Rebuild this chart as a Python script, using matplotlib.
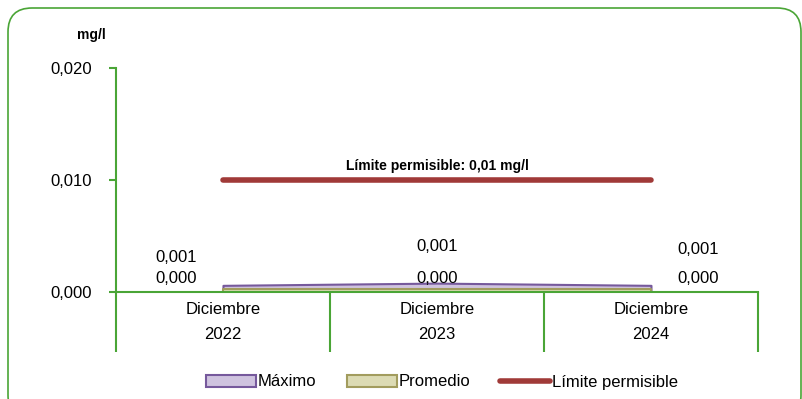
import matplotlib
matplotlib.use("Agg")
import matplotlib.pyplot as plt
from matplotlib.patches import FancyBboxPatch, Patch
from matplotlib.lines import Line2D

# data
meses = ["Diciembre", "Diciembre", "Diciembre"]
anios = ["2022", "2023", "2024"]
maximo = [0.0006, 0.0008, 0.0006]
promedio = [0.0003, 0.0003, 0.0003]
limite = 0.01

verde = "#4aa536"
plt.rcParams["font.family"] = ["Liberation Sans Narrow", "Liberation Sans", "DejaVu Sans"]

fig = plt.figure(figsize=(8.02, 3.99), dpi=100)
ax = fig.add_axes([0.1446, 0.268, 0.8005, 0.5616])

# rounded frame around the whole chart
marco = FancyBboxPatch((8 / 802, -0.05), 1 - 9 / 802, 1.0 - 8 / 399 + 0.05,
                       boxstyle="round,pad=0,rounding_size=0.03",
                       transform=fig.transFigure, fill=False,
                       edgecolor=verde, linewidth=1.2, mutation_aspect=2.0)
fig.patches.append(marco)

x = list(range(len(anios)))
ax.fill_between(x, maximo, color="#cfc3df", edgecolor="#76599c", linewidth=1.5)
ax.fill_between(x, promedio, color="#dcdbb4", edgecolor="#a29c5e", linewidth=1.5)
ax.plot([x[0], x[-1]], [limite, limite], color="#a03a38", linewidth=4, solid_capstyle="round")
ax.text(1, limite + 0.0006, "Límite permisible: 0,01 mg/l", ha="center", va="bottom",
        fontsize=10, fontweight="bold")

# data labels
desp = [(-34, 20), (0, 26), (34, 26)]
for i in x:
    dx, dy = desp[i]
    ax.annotate(f"{maximo[i]:.3f}".replace(".", ","), (i, maximo[i]), xytext=(dx, dy),
                textcoords="offset points", ha="center", va="center", fontsize=12)
    ax.annotate(f"{promedio[i]:.3f}".replace(".", ","), (i, promedio[i]), xytext=(dx, 7.5),
                textcoords="offset points", ha="center", va="center", fontsize=12)

ax.set_xlim(-0.5, 2.5)
ax.set_ylim(0, 0.02)
ax.set_yticks([0, 0.01, 0.02])
ax.set_yticklabels(["0,000", "0,010", "0,020"], fontsize=12)
ax.set_xticks(x)
ax.set_xticklabels([f"{m}\n{a}" for m, a in zip(meses, anios)], fontsize=12, linespacing=1.85)
ax.set_xticks([-0.5, 0.5, 1.5, 2.5], minor=True)
ax.tick_params(axis="x", which="major", length=0, pad=7)
ax.tick_params(axis="x", which="minor", length=43, width=1.5, color=verde, direction="out")
ax.tick_params(axis="y", length=5, width=1.5, color=verde, pad=12)
for lado in ["top", "right"]:
    ax.spines[lado].set_visible(False)
for lado in ["left", "bottom"]:
    ax.spines[lado].set_color(verde)
    ax.spines[lado].set_linewidth(1.5)

fig.text(91 / 802, 1 - 35 / 399, "mg/l", ha="center", va="center", fontsize=10, fontweight="bold")

handles = [Patch(facecolor="#cfc3df", edgecolor="#76599c", linewidth=1.5),
           Patch(facecolor="#dcdbb4", edgecolor="#a29c5e", linewidth=1.5),
           Line2D([], [], color="#a03a38", linewidth=4, solid_capstyle="round")]
fig.legend(handles, ["Máximo", "Promedio", "Límite permisible"], loc="center",
           bbox_to_anchor=(442 / 802, 1 - 382 / 399), ncol=3, frameon=False, fontsize=12,
           handlelength=3.0, handleheight=0.7, handletextpad=0.1, columnspacing=1.8)

fig.savefig("out.png", dpi=100)
